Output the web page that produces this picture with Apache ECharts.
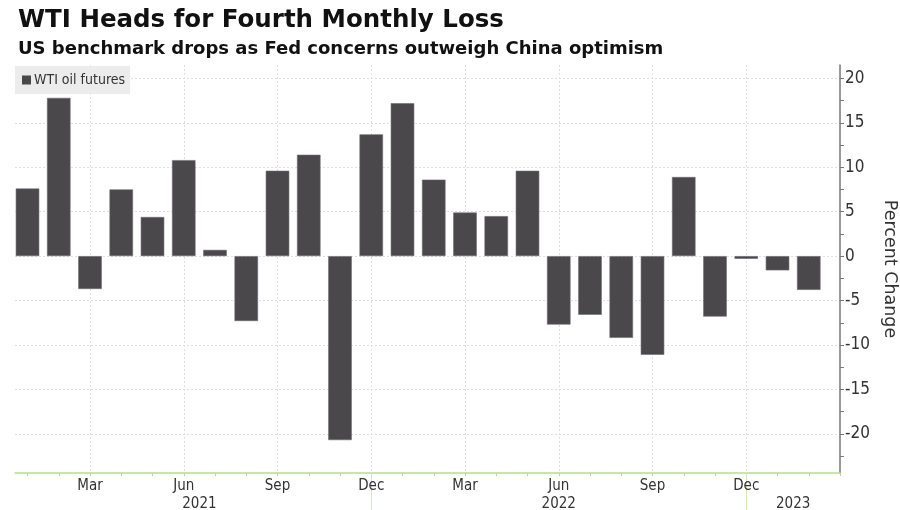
<!DOCTYPE html>
<html><head><meta charset="utf-8">
<script src="https://cdn.jsdelivr.net/npm/echarts@6/dist/echarts.min.js"></script>
<style>html,body{margin:0;padding:0;background:#fff}#c{width:900px;height:510px}</style>
</head><body><div id="c"></div>
<script>
// ---- data ----
const months = ['Jan','Feb','Mar','Apr','May','Jun','Jul','Aug','Sep','Oct','Nov','Dec',
                'Jan','Feb','Mar','Apr','May','Jun','Jul','Aug','Sep','Oct','Nov','Dec',
                'Jan','Feb'];
const monthYears = ['2021','2021','2021','2021','2021','2021','2021','2021','2021','2021','2021','2021',
                    '2022','2022','2022','2022','2022','2022','2022','2022','2022','2022','2022','2022',
                    '2023','2023'];
const wtiChange = [7.6, 17.8, -3.7, 7.5, 4.4, 10.8, 0.7, -7.3, 9.6, 11.4, -20.7, 13.7,
                   17.2, 8.6, 4.9, 4.5, 9.6, -7.7, -6.6, -9.2, -11.1, 8.9, -6.8, -0.3,
                   -1.6, -3.8];
const yTicks = [-20, -15, -10, -5, 0, 5, 10, 15, 20];
const quarterMonths = ['Mar', 'Jun', 'Sep', 'Dec'];
const yearLabels = ['2021', '2022', '2023'];
const seriesName = 'WTI oil futures';

// ---- derived ----
const idx = months.map((_, i) => i);
const monthTickIdx = idx.concat([months.length]);
const quarterIdx = idx.filter(i => quarterMonths.includes(months[i]));
const decIdx = idx.filter(i => months[i] === 'Dec');
const yearAnchor = {'2021': 5.5, '2022': 17, '2023': 24.5};
const yearPos = yearLabels.map(y => yearAnchor[y]);
const yMinor = yTicks.flatMap(v => [v - 2.5, v]);
const X_MIN = -0.4, X_MAX = 26, Y_MIN = -24.4, Y_MAX = 21.5;

const COND = "'DejaVu Sans Condensed','Liberation Sans Narrow','DejaVu Sans',sans-serif";
const GREEN = '#b9dc8f';
const GRID = '#e3dde3';

const chart = echarts.init(document.getElementById('c'), null, {renderer: 'canvas'});
chart.setOption({
  backgroundColor: '#ffffff',
  animation: false,
  title: [
    {text: 'WTI Heads for Fourth Monthly Loss', left: 13, top: 3,
     textStyle: {fontFamily: 'DejaVu Sans', fontWeight: 'bold', fontSize: 24.5, color: '#111'}},
    {text: 'US benchmark drops as Fed concerns outweigh China optimism', left: 13, top: 35,
     textStyle: {fontFamily: 'DejaVu Sans', fontWeight: 'bold', fontSize: 18, color: '#111'}}
  ],
  legend: {
    left: 15, top: 66, orient: 'horizontal',
    backgroundColor: '#ececec', padding: [7, 5, 7, 7],
    itemWidth: 9, itemHeight: 9, icon: 'rect',
    itemStyle: {borderWidth: 0},
    textStyle: {fontFamily: COND, fontSize: 14, color: '#333', padding: [0,0,0,-2]},
    data: [seriesName]
  },
  grid: {left: 15, right: 60, top: 65, bottom: 37, containLabel: false, outerBoundsMode: 'none'},
  xAxis: [
    {type: 'value', min: X_MIN, max: X_MAX, position: 'bottom',
     axisLine: {show: true, onZero: false, lineStyle: {color: GREEN, width: 1.5}},
     axisTick: {show: true, customValues: monthTickIdx, length: 3, lineStyle: {color: GREEN}},
     axisLabel: {customValues: quarterIdx, formatter: v => months[Math.round(v)],
                 fontFamily: COND, fontSize: 15, color: '#333', margin: 6},
     splitLine: {show: false}},
    {type: 'value', min: X_MIN, max: X_MAX, position: 'bottom',
     axisLine: {show: false, onZero: false}, axisTick: {show: false, customValues: quarterIdx},
     axisLabel: {show: false},
     splitLine: {show: true, lineStyle: {color: GRID, type: [2, 2], width: 1}}},
    {type: 'value', min: X_MIN, max: X_MAX, position: 'bottom',
     axisLine: {show: false, onZero: false},
     axisTick: {show: true, customValues: decIdx, length: 40, lineStyle: {color: '#d4e9bd'}},
     axisLabel: {customValues: yearPos,
                 formatter: v => monthYears[Math.min(months.length - 1, Math.round(v))],
                 fontFamily: COND, fontSize: 15, color: '#333', margin: 24},
     splitLine: {show: false}}
  ],
  yAxis: [
    {type: 'value', min: Y_MIN, max: Y_MAX, position: 'right',
     name: 'Percent Change', nameLocation: 'middle', nameRotate: -90, nameGap: 38,
     nameTextStyle: {fontFamily: 'DejaVu Sans', fontSize: 17.5, color: '#333'},
     axisLine: {show: true, onZero: false, lineStyle: {color: '#777', width: 1.5}},
     axisTick: {show: true, customValues: yMinor, length: 4, lineStyle: {color: '#777'}},
     axisLabel: {customValues: yTicks, fontFamily: COND, fontSize: 17, color: '#333', margin: 5},
     splitLine: {show: false}},
    {type: 'value', min: Y_MIN, max: Y_MAX, position: 'right',
     axisLine: {show: false, onZero: false}, axisTick: {show: false, customValues: yTicks},
     axisLabel: {show: false},
     splitLine: {show: true, lineStyle: {color: GRID, type: [2, 2], width: 1}}}
  ],
  series: [{
    name: seriesName, type: 'bar', xAxisIndex: 0, yAxisIndex: 0,
    barWidth: 23.5,
    itemStyle: {color: '#4a484b', borderColor: '#6a686b', borderWidth: 0.6},
    data: wtiChange.map((v, i) => [i, v])
  }]
});
</script></body></html>
